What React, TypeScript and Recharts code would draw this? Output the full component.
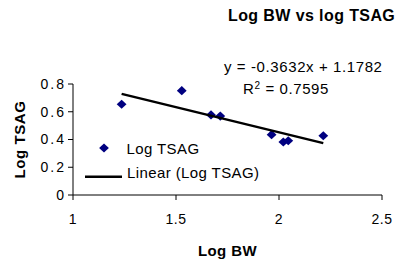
import React from "react";
import { ScatterChart, Scatter, XAxis, YAxis, Legend } from "recharts";

const logBW = [1.236, 1.528, 1.67, 1.715, 1.964, 2.021, 2.045, 2.215];
const logTSAG = [0.654, 0.752, 0.577, 0.569, 0.435, 0.382, 0.391, 0.427];
const trendBW = [1.236, 2.215];
const trendTSAG = [0.729, 0.374];
const xTicks = [1, 1.5, 2, 2.5];
const yTicks = [0, 0.2, 0.4, 0.6, 0.8];
const seriesName = "Log TSAG";
const trendName = "Linear (Log TSAG)";
const titleText = "Log BW vs log TSAG";
const equationText = "y = -0.3632x + 1.1782";
const rSquaredValue = "0.7595";
const xLabel = "Log BW";
const yLabel = "Log TSAG";

const points = logBW.map((x, i) => ({ x, y: logTSAG[i] }));
const trend = trendBW.map((x, i) => ({ x, y: trendTSAG[i] }));

const FONT = "'Liberation Sans', Arial, sans-serif";
const NAVY = "#000080";

const Diamond = (props: any) => {
  const { cx, cy } = props;
  if (cx == null || cy == null) return <g />;
  const w = 4.9;
  const h = 4.6;
  return (
    <polygon
      points={`${cx},${cy - h} ${cx + w},${cy} ${cx},${cy + h} ${cx - w},${cy}`}
      fill={NAVY}
    />
  );
};

const NoShape = () => <g />;

const YTick = (props: any) => {
  const { x, y, payload } = props;
  return (
    <text
      x={x}
      y={y}
      dy="0.355em"
      textAnchor="end"
      fontFamily={FONT}
      fontSize={14}
      letterSpacing={2}
      fill="#000"
    >
      {String(payload.value)}
    </text>
  );
};

const XTick = (props: any) => {
  const { x, y, payload } = props;
  return (
    <text
      x={x}
      y={y}
      dy="0.71em"
      textAnchor="middle"
      fontFamily={FONT}
      fontSize={14}
      letterSpacing={0.5}
      fill="#000"
    >
      {String(payload.value)}
    </text>
  );
};

const renderLegend = () => (
  <svg width={220} height={60} style={{ display: "block" }}>
    <polygon points="24,13.4 28.9,18 24,22.6 19.1,18" fill={NAVY} />
    <text x={46.5} y={23.5} fontFamily={FONT} fontSize={15} letterSpacing={0.4} fill="#000">
      {seriesName}
    </text>
    <line x1={5} y1={46.7} x2={42} y2={46.7} stroke="#000" strokeWidth={2.5} />
    <text x={47} y={48.3} fontFamily={FONT} fontSize={15} letterSpacing={0.4} fill="#000">
      {trendName}
    </text>
  </svg>
);

export default function App() {
  return (
    <div style={{ position: "absolute", left: 0, top: 0, width: 397, height: 261, background: "#fff" }}>
      <ScatterChart
        width={397}
        height={261}
        margin={{ top: 84, right: 15, bottom: 36, left: 13 }}
      >
        <XAxis
          type="number"
          dataKey="x"
          domain={[1, 2.5]}
          ticks={xTicks}
          height={30}
          tickSize={5}
          tickMargin={14}
          axisLine={{ stroke: "#000" }}
          tickLine={{ stroke: "#000" }}
          tick={<XTick />}
          allowDataOverflow
        />
        <YAxis
          type="number"
          dataKey="y"
          domain={[0, 0.8]}
          ticks={yTicks}
          width={60}
          tickSize={5}
          tickMargin={2}
          axisLine={{ stroke: "#000" }}
          tickLine={{ stroke: "#000" }}
          tick={<YTick />}
          allowDataOverflow
        />
        <Legend
          layout="vertical"
          align="center"
          verticalAlign="middle"
          content={renderLegend}
          wrapperStyle={{ position: "absolute", left: 80, top: 130, width: 220, height: 60 }}
        />
        <Scatter
          name={seriesName}
          data={points}
          shape={<Diamond />}
          fill={NAVY}
          isAnimationActive={false}
        />
        <Scatter
          name={trendName}
          data={trend}
          shape={<NoShape />}
          line={{ stroke: "#000", strokeWidth: 2.5 }}
          fill="#000"
          isAnimationActive={false}
        />
      </ScatterChart>
      <svg
        width={397}
        height={261}
        style={{ position: "absolute", left: 0, top: 0, pointerEvents: "none" }}
      >
        <text x={228} y={21} fontFamily={FONT} fontSize={16} fontWeight="bold" letterSpacing={0.4} fill="#000">
          {titleText}
        </text>
        <text x={224} y={72} fontFamily={FONT} fontSize={15} letterSpacing={0.6} fill="#000">
          {equationText}
        </text>
        <text x={243} y={94} fontFamily={FONT} fontSize={15} letterSpacing={0.6} fill="#000">
          R<tspan fontSize={10} dy={-5}>2</tspan>
          <tspan dy={5}>{" = " + rSquaredValue}</tspan>
        </text>
        <text
          x={227.5}
          y={256}
          textAnchor="middle"
          fontFamily={FONT}
          fontSize={15}
          fontWeight="bold"
          letterSpacing={0.4}
          fill="#000"
        >
          {xLabel}
        </text>
        <text
          x={24.5}
          y={139.5}
          textAnchor="middle"
          transform="rotate(-90 24.5 139.5)"
          fontFamily={FONT}
          fontSize={15}
          fontWeight="bold"
          letterSpacing={0.6}
          fill="#000"
        >
          {yLabel}
        </text>
      </svg>
    </div>
  );
}
